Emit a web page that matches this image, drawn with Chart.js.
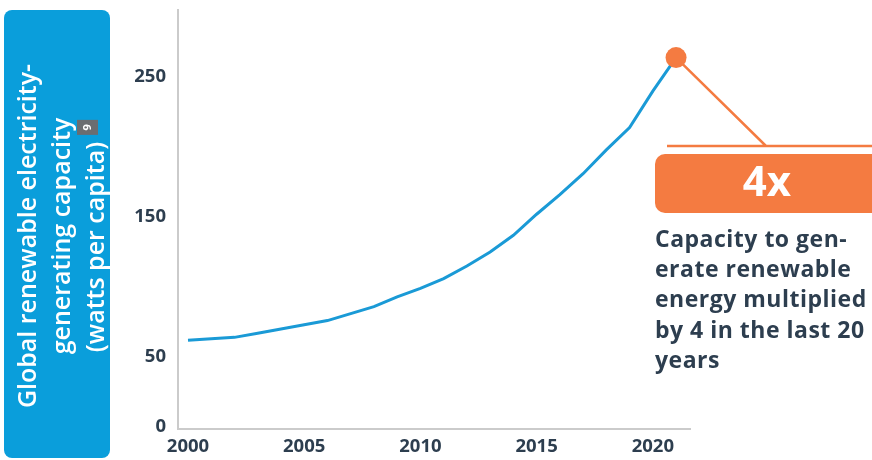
<!DOCTYPE html>
<html>
<head>
<meta charset="utf-8">
<script src="https://cdn.jsdelivr.net/npm/chart.js@4"></script>
<style>
  html, body { margin: 0; padding: 0; background: #fff; }
  #wrap { width: 872px; height: 460px; }
</style>
</head>
<body>
<div id="wrap"><canvas id="capacity"></canvas></div>
<script>
// Global renewable electricity capacity, watts per capita
var years = [2000, 2001, 2002, 2003, 2004, 2005, 2006, 2007, 2008, 2009, 2010,
             2011, 2012, 2013, 2014, 2015, 2016, 2017, 2018, 2019, 2020, 2021];
var capacity = [62, 63, 64, 67, 70, 73, 76, 81, 86, 93, 99,
                106, 115, 125, 137, 152, 166, 181, 198, 214, 240, 264];
var xTicks = [2000, 2005, 2010, 2015, 2020];
var yTicks = [0, 50, 150, 250];
var titleLines = ['Global renewable electricity-', 'generating capacity', '(watts per capita)'];
var noteRef = '9';
var badgeText = '4x';
var noteLines = ['Capacity to gen-', 'erate renewable', 'energy multiplied', 'by 4 in the last 20', 'years'];

var BLUE = '#0a9edb';
var LINE = '#1a9ad6';
var ORANGE = '#f47b41';
var DARK = '#2d3e4f';
var FONT = '"Open Sans", "Noto Sans", sans-serif';

var points = years.map(function (y, i) { return { x: y, y: capacity[i] }; });
var last = points.length - 1;

// side label box + annotation on the last point
var extras = {
  id: 'extras',
  afterDraw: function (chart) {
    var ctx = chart.ctx;
    ctx.save();

    // blue title box
    ctx.fillStyle = BLUE;
    ctx.beginPath();
    ctx.roundRect(4, 10, 106, 448, 8);
    ctx.fill();

    ctx.fillStyle = '#fff';
    ctx.font = '600 25px ' + FONT;
    ctx.textBaseline = 'middle';
    var xs = [29, 63, 97];
    var cy = 236;
    for (var i = 0; i < titleLines.length; i++) {
      ctx.save();
      ctx.translate(xs[i], cy);
      ctx.rotate(-Math.PI / 2);
      if (i < titleLines.length - 1) {
        ctx.textAlign = 'center';
        ctx.fillText(titleLines[i], 0, 0);
      } else {
        var w = ctx.measureText(titleLines[i]).width;
        var total = w + 7 + 15;
        ctx.textAlign = 'left';
        ctx.fillText(titleLines[i], -total / 2, 0);
        // superscript note marker
        var sx = -total / 2 + w + 7;
        ctx.fillStyle = '#6b6d70';
        ctx.fillRect(sx, -20, 15, 21);
        ctx.fillStyle = '#fff';
        ctx.font = 'bold 11px ' + FONT;
        ctx.textAlign = 'center';
        ctx.fillText(noteRef, sx + 7.5, -9.5);
      }
      ctx.restore();
    }

    // connector from the last point
    var pt = chart.getDatasetMeta(0).data[last];
    ctx.strokeStyle = ORANGE;
    ctx.lineWidth = 2.5;
    ctx.beginPath();
    ctx.moveTo(pt.x, pt.y);
    ctx.lineTo(766, 146);
    ctx.moveTo(667, 146);
    ctx.lineTo(872, 146);
    ctx.stroke();
    ctx.fillStyle = ORANGE;
    ctx.beginPath();
    ctx.arc(pt.x, pt.y, 10.5, 0, Math.PI * 2);
    ctx.fill();

    // badge
    ctx.beginPath();
    ctx.roundRect(655, 154, 240, 59, 10);
    ctx.fill();
    ctx.fillStyle = '#fff';
    ctx.font = 'bold 42px ' + FONT;
    ctx.textAlign = 'center';
    ctx.textBaseline = 'middle';
    ctx.fillText(badgeText, 767, 184);

    // note text
    ctx.fillStyle = DARK;
    ctx.font = 'bold 23px ' + FONT;
    ctx.letterSpacing = '0.5px';
    ctx.textAlign = 'left';
    ctx.textBaseline = 'alphabetic';
    for (var j = 0; j < noteLines.length; j++) {
      ctx.fillText(noteLines[j], 655, 247 + j * 30.2);
    }
    ctx.restore();
  }
};

new Chart(document.getElementById('capacity'), {
  type: 'line',
  data: {
    datasets: [{
      data: points,
      borderColor: LINE,
      borderWidth: 3,
      pointRadius: 0,
      tension: 0,
      fill: false
    }]
  },
  options: {
    responsive: true,
    maintainAspectRatio: false,
    animation: false,
    layout: { padding: { left: 110, right: 182, top: 10, bottom: 0 } },
    plugins: {
      legend: { display: false },
      tooltip: { enabled: false }
    },
    scales: {
      x: {
        type: 'linear',
        min: 1999.57,
        max: 2021.6,
        afterBuildTicks: function (axis) {
          axis.ticks = xTicks.map(function (v) { return { value: v }; });
        },
        afterFit: function (axis) {
          axis.height = 31;
          axis.paddingLeft = 0;
          axis.paddingRight = 0;
        },
        grid: { display: false, drawTicks: false },
        border: { display: true, color: '#cbcbcb', width: 2 },
        ticks: {
          padding: 7,
          maxRotation: 0,
          color: DARK,
          font: { family: FONT, size: 18.5, weight: 'bold' },
          callback: function (v) { return String(v); }
        }
      },
      y: {
        min: -1.5,
        max: 298,
        afterBuildTicks: function (axis) {
          axis.ticks = yTicks.map(function (v) { return { value: v }; });
        },
        afterFit: function (axis) {
          axis.width = 68;
          axis.paddingTop = 0;
          axis.paddingBottom = 0;
        },
        grid: { display: false, drawTicks: false },
        border: { display: true, color: '#cbcbcb', width: 2 },
        ticks: {
          padding: 12,
          color: DARK,
          font: { family: FONT, size: 18.5, weight: 'bold' }
        }
      }
    }
  },
  plugins: [extras]
});
</script>
</body>
</html>
